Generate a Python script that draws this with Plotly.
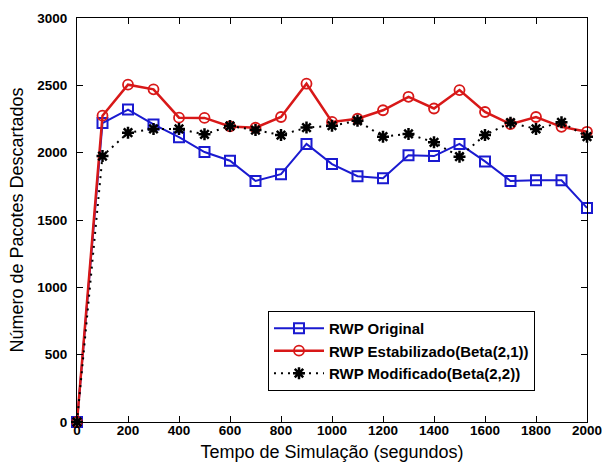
import plotly.graph_objects as go

tempo = [0, 100, 200, 300, 400, 500, 600, 700, 800, 900, 1000,
         1100, 1200, 1300, 1400, 1500, 1600, 1700, 1800, 1900, 2000]

rwp_original = [0, 2220, 2320, 2210, 2115, 2005, 1940, 1790, 1840, 2065, 1915,
                1825, 1810, 1980, 1975, 2065, 1935, 1790, 1795, 1795, 1590]

rwp_estabilizado = [0, 2275, 2505, 2470, 2260, 2258, 2195, 2185, 2265, 2512, 2228,
                    2252, 2315, 2415, 2328, 2465, 2302, 2212, 2265, 2192, 2155]

rwp_modificado = [0, 1975, 2148, 2176, 2176, 2136, 2198, 2168, 2131, 2186, 2200,
                  2237, 2119, 2139, 2077, 1970, 2131, 2223, 2176, 2225, 2119]

x_ticks = [0, 200, 400, 600, 800, 1000, 1200, 1400, 1600, 1800, 2000]
y_ticks = [0, 500, 1000, 1500, 2000, 2500, 3000]

BLUE = "#1a1ad0"
RED = "#d81818"

fig = go.Figure()

fig.add_trace(go.Scatter(
    x=tempo, y=rwp_original, name="RWP Original", mode="lines+markers",
    line=dict(color=BLUE, width=2),
    marker=dict(symbol="square-open", size=10, color=BLUE, line=dict(width=2)),
    cliponaxis=False,
))
fig.add_trace(go.Scatter(
    x=tempo, y=rwp_estabilizado, name="RWP Estabilizado(Beta(2,1))", mode="lines+markers",
    line=dict(color=RED, width=2.5),
    marker=dict(symbol="circle-open", size=10, color=RED, line=dict(width=1.8)),
    cliponaxis=False,
))
fig.add_trace(go.Scatter(
    x=tempo, y=rwp_modificado, name="RWP Modificado(Beta(2,2))", mode="lines+markers",
    line=dict(color="black", width=2, dash="2px,5px"),
    marker=dict(symbol="asterisk-open", size=10, color="black", line=dict(width=2.5, color="black")),
    cliponaxis=False,
))

axis_common = dict(
    showline=True, linecolor="black", linewidth=1, mirror="ticks",
    ticks="inside", ticklen=6, tickcolor="black", tickwidth=1,
    showgrid=False, zeroline=False, ticklabeloverflow="allow",
    tickfont=dict(family="Liberation Sans", size=13.5, color="black", weight="bold"),
)

fig.update_xaxes(
    range=[0, 2000], tickvals=x_ticks, ticktext=[str(v) for v in x_ticks],
    title=dict(text="Tempo de Simulação (segundos)",
               font=dict(family="Liberation Sans", size=18, color="black"), standoff=8),
    ticklabelstandoff=-4,
    **axis_common,
)
fig.update_yaxes(
    range=[0, 3000], tickvals=y_ticks, ticktext=[str(v) for v in y_ticks],
    title=dict(text="Número de Pacotes Descartados",
               font=dict(family="Liberation Sans", size=18, color="black"), standoff=8),
    ticklabelstandoff=6,
    **axis_common,
)

fig.update_layout(
    width=602, height=464,
    margin=dict(l=77, r=15, t=18, b=42, autoexpand=False),
    paper_bgcolor="white", plot_bgcolor="white",
    showlegend=True,
    legend=dict(
        x=0.3745, y=0.275, xanchor="left", yanchor="top",
        bgcolor="white", bordercolor="black", borderwidth=1,
        font=dict(family="Liberation Sans", size=15, color="black", weight="bold"),
        itemwidth=50, tracegroupgap=0,
    ),
)

# remove the default page margin so the 602x464 figure fills the window exactly
fig.write_html("out.html",
               config={"displayModeBar": False},
               post_script="document.body.style.margin='0';document.body.style.overflow='hidden';")
